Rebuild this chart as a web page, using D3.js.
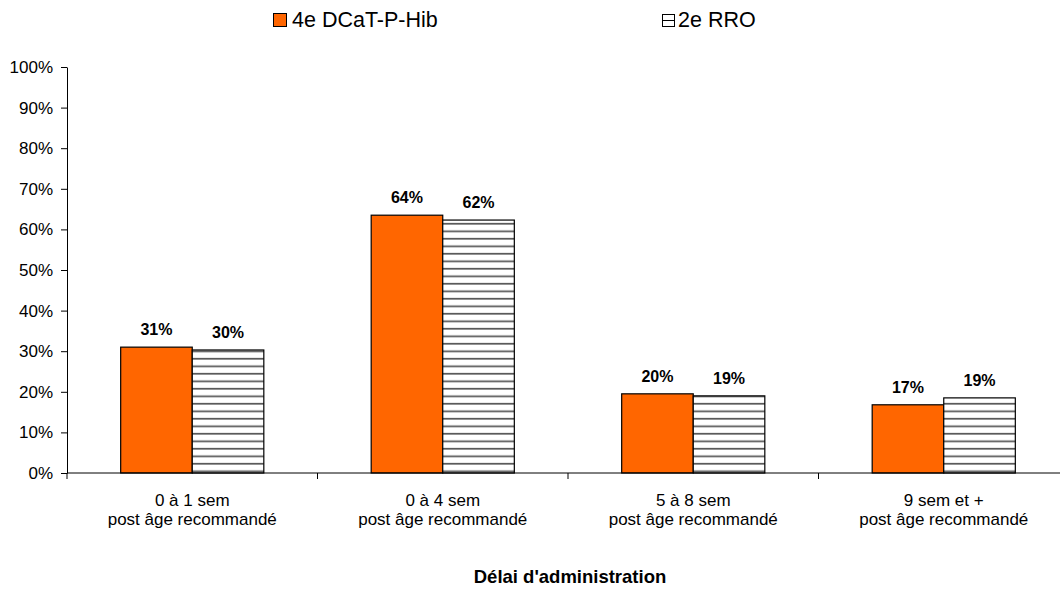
<!DOCTYPE html>
<html>
<head>
<meta charset="utf-8">
<script src="https://cdn.jsdelivr.net/npm/d3@7"></script>
<style>
  body { margin: 0; background: #fff; }
  svg { font-family: 'Liberation Sans', Arial, sans-serif; }
</style>
</head>
<body>
<svg id="chart" width="1060" height="589"></svg>
<script>
// data
const categories = ['0 à 1 sem|post âge recommandé', '0 à 4 sem|post âge recommandé',
  '5 à 8 sem|post âge recommandé', '9 sem et +|post âge recommandé'];
const series_names = ['4e DCaT-P-Hib', '2e RRO'];
const dcat_values = [0.31, 0.635, 0.195, 0.168];
const rro_values = [0.303, 0.623, 0.19, 0.185];
const dcat_labels = ['31%', '64%', '20%', '17%'];
const rro_labels = ['30%', '62%', '19%', '19%'];
const y_ticks = [0, 0.1, 0.2, 0.3, 0.4, 0.5, 0.6, 0.7, 0.8, 0.9, 1];

const svg = d3.select('#chart');
const margin = {left: 67, top: 67, bottom: 473};
const plot_right = 1069;

// stripe pattern for the second series
const defs = svg.append('defs');
let pat = defs.append('pattern')
  .attr('id', 'stripes')
  .attr('patternUnits', 'userSpaceOnUse')
  .attr('width', 10)
  .attr('height', 7.5);
pat.append('rect').attr('width', 10).attr('height', 7.5).attr('fill', '#fff');
pat.append('rect').attr('y', 5.5).attr('width', 10).attr('height', 1.6).attr('fill', '#4a4a4a');

const x = d3.scaleBand()
  .domain(categories)
  .range([margin.left, plot_right]);
const x_inner = d3.scaleBand()
  .domain(series_names)
  .range([0, x.bandwidth()])
  .paddingInner(0)
  .paddingOuter(0.75);
const y = d3.scaleLinear()
  .domain([0, 1])
  .range([margin.bottom, margin.top]);

// y axis
let y_axis = svg.append('g')
  .attr('transform', 'translate(' + margin.left + ',0)')
  .call(d3.axisLeft(y).tickValues(y_ticks).tickFormat(d3.format('.0%')).tickSize(6).tickSizeOuter(0));
y_axis.select('.domain').attr('stroke', '#000');
y_axis.selectAll('.tick line').attr('stroke', '#000');
y_axis.selectAll('.tick text')
  .attr('font-size', 17)
  .attr('font-family', "'Liberation Sans', Arial, sans-serif")
  .attr('fill', '#000')
  .attr('x', -14);

// bars
let groups = svg.append('g').selectAll('g')
  .data(categories)
  .join('g')
  .attr('transform', d => 'translate(' + x(d) + ',0)');

groups.append('rect') //first series
  .attr('x', x_inner(series_names[0]))
  .attr('y', (d, i) => y(dcat_values[i]))
  .attr('width', x_inner.bandwidth())
  .attr('height', (d, i) => y(0) - y(dcat_values[i]))
  .attr('fill', '#ff6600')
  .attr('stroke', '#000')
  .attr('stroke-width', 1.2);

groups.append('rect') //second series
  .attr('x', x_inner(series_names[1]))
  .attr('y', (d, i) => y(rro_values[i]))
  .attr('width', x_inner.bandwidth())
  .attr('height', (d, i) => y(0) - y(rro_values[i]))
  .attr('fill', 'url(#stripes)')
  .attr('stroke', '#000')
  .attr('stroke-width', 1.2);

groups.append('text')
  .attr('x', x_inner(series_names[0]) + x_inner.bandwidth() / 2)
  .attr('y', (d, i) => y(dcat_values[i]) - 12)
  .attr('text-anchor', 'middle')
  .attr('font-size', 16)
  .attr('font-weight', 'bold')
  .text((d, i) => dcat_labels[i]);

groups.append('text')
  .attr('x', x_inner(series_names[1]) + x_inner.bandwidth() / 2)
  .attr('y', (d, i) => y(rro_values[i]) - 12)
  .attr('text-anchor', 'middle')
  .attr('font-size', 16)
  .attr('font-weight', 'bold')
  .text((d, i) => rro_labels[i]);

// x axis
svg.append('line')
  .attr('x1', margin.left).attr('x2', 1060)
  .attr('y1', y(0)).attr('y2', y(0))
  .attr('stroke', '#000');
svg.append('g').selectAll('line')
  .data(categories)
  .join('line')
  .attr('x1', d => x(d)).attr('x2', d => x(d))
  .attr('y1', y(0)).attr('y2', y(0) + 6)
  .attr('stroke', '#000');

let cat_labels = svg.append('g').selectAll('text')
  .data(categories)
  .join('text')
  .attr('x', d => x(d) + x.bandwidth() / 2)
  .attr('y', 506)
  .attr('text-anchor', 'middle')
  .attr('font-size', 17);
cat_labels.each(function(d) {
  let parts = d.split('|');
  d3.select(this).selectAll('tspan')
    .data(parts)
    .join('tspan')
    .attr('x', x(d) + x.bandwidth() / 2)
    .attr('dy', (p, j) => j == 0 ? 0 : 19)
    .text(p => p);
});

svg.append('text')
  .attr('x', 570)
  .attr('y', 583)
  .attr('text-anchor', 'middle')
  .attr('font-size', 18.5)
  .attr('font-weight', 'bold')
  .text("Délai d'administration");

// legend
let legend = svg.append('g');
legend.append('rect')
  .attr('x', 273.5).attr('y', 13.5).attr('width', 13).attr('height', 13)
  .attr('fill', '#ff6600').attr('stroke', '#000');
legend.append('text')
  .attr('x', 292).attr('y', 27)
  .attr('font-size', 21.5)
  .text(series_names[0]);
legend.append('rect')
  .attr('x', 662.5).attr('y', 14.5).attr('width', 12).attr('height', 12)
  .attr('fill', '#fff').attr('stroke', '#000');
legend.append('line')
  .attr('x1', 662.5).attr('x2', 674.5).attr('y1', 20.5).attr('y2', 20.5)
  .attr('stroke', '#000');
legend.append('text')
  .attr('x', 678).attr('y', 27)
  .attr('font-size', 21.5)
  .text(series_names[1]);
</script>
</body>
</html>
